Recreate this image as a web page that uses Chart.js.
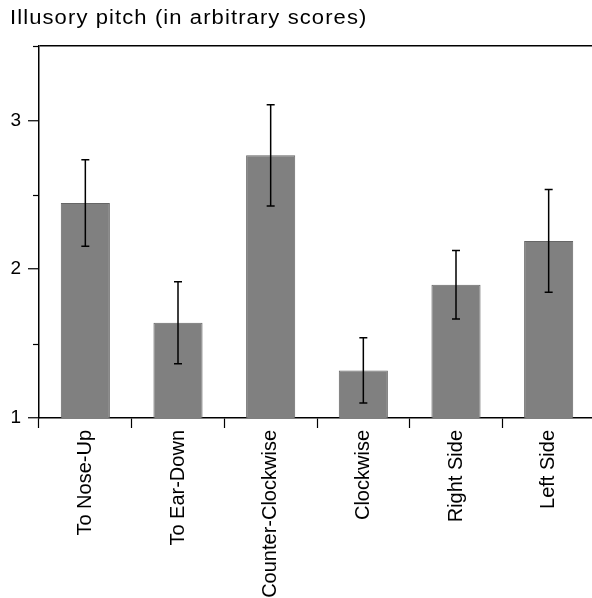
<!DOCTYPE html>
<html>
<head>
<meta charset="utf-8">
<script src="https://cdn.jsdelivr.net/npm/chart.js@4/dist/chart.umd.min.js"></script>
<style>
  html, body { margin: 0; padding: 0; background: #fff; overflow: hidden; }
  #wrap { position: relative; width: 600px; height: 598px; }
</style>
</head>
<body>
<div id="wrap"><canvas id="c"></canvas></div>
<script>
// Conditions and their mean scores
const categories = ['To Nose-Up', 'To Ear-Down', 'Counter-Clockwise', 'Clockwise', 'Right Side', 'Left Side'];
const meanScores = [2.445, 1.64, 2.765, 1.32, 1.895, 2.19];
const errorSizes = [0.29, 0.275, 0.34, 0.22, 0.23, 0.345];
const yTickLabels = ['1', '2', '3'];
const titleText = 'Illusory pitch (in arbitrary scores)';

const FONT = '"Liberation Sans", Arial, sans-serif';

// Error bars drawn on top of each bar
const errorBars = {
  id: 'errorBars',
  afterDatasetsDraw(chart) {
    const { ctx, scales: { y } } = chart;
    const meta = chart.getDatasetMeta(0);
    ctx.save();
    ctx.strokeStyle = '#000';
    ctx.lineWidth = 1.5;
    meta.data.forEach((bar, i) => {
      const x = bar.x;
      const top = y.getPixelForValue(meanScores[i] + errorSizes[i]);
      const bot = y.getPixelForValue(meanScores[i] - errorSizes[i]);
      const cap = 4;
      ctx.beginPath();
      ctx.moveTo(x, top); ctx.lineTo(x, bot);
      ctx.moveTo(x - cap, top); ctx.lineTo(x + cap, top);
      ctx.moveTo(x - cap, bot); ctx.lineTo(x + cap, bot);
      ctx.stroke();
    });
    ctx.restore();
  }
};

// Short minor ticks at the half-unit positions of the value axis
const minorTicks = {
  id: 'minorTicks',
  afterDraw(chart) {
    const { ctx, scales: { y } } = chart;
    ctx.save();
    ctx.strokeStyle = '#000';
    ctx.lineWidth = 1.2;
    y.ticks.forEach(t => {
      if (Number.isInteger(t.value)) return;
      const py = Math.round(y.getPixelForValue(t.value)) + 0.5;
      ctx.beginPath();
      ctx.moveTo(y.right - 6, py);
      ctx.lineTo(y.right, py);
      ctx.stroke();
    });
    ctx.restore();
  }
};

// Wider, letter-spaced title text
const spacedTitle = {
  id: 'spacedTitle',
  beforeDraw(chart) {
    const tb = chart.titleBlock;
    if (tb && !tb._spaced) {
      const orig = tb.draw.bind(tb);
      tb.draw = function (area) {
        const ctx = chart.ctx;
        ctx.save();
        ctx.translate(10, 0);
        ctx.scale(1.1, 1);
        ctx.letterSpacing = '1px';
        orig(area);
        ctx.restore();
      };
      tb._spaced = true;
    }
  }
};

new Chart(document.getElementById('c'), {
  type: 'bar',
  data: {
    labels: categories,
    datasets: [{
      data: meanScores,
      backgroundColor: '#808080',
      borderColor: '#666666',
      borderWidth: 1,
      barPercentage: 0.53,
      categoryPercentage: 1.0
    }]
  },
  options: {
    responsive: true,
    maintainAspectRatio: false,
    animation: false,
    layout: { padding: { left: 0, right: 5, top: 0, bottom: 0 } },
    plugins: {
      legend: { display: false },
      tooltip: { enabled: false },
      title: {
        display: true,
        text: titleText,
        align: 'start',
        color: '#000',
        font: { family: FONT, size: 20, weight: 'normal', lineHeight: 1.2 },
        padding: { top: 6, bottom: 16 }
      }
    },
    scales: {
      x: {
        offset: true,
        grid: {
          offset: true,
          drawOnChartArea: false,
          drawTicks: true,
          tickLength: 10,
          tickColor: '#000',
          tickWidth: 1.2
        },
        border: { display: true, color: '#000', width: 1.5 },
        ticks: {
          autoSkip: false,
          minRotation: 90,
          maxRotation: 90,
          padding: 2,
          color: '#000',
          font: { family: FONT, size: 20 }
        },
        afterFit(scale) { scale.height = 180; }
      },
      y: {
        min: 1,
        max: 3.5,
        grid: {
          drawOnChartArea: true,
          color: c => (c.tick && c.tick.value === 3.5 ? '#000' : 'rgba(0,0,0,0)'),
          lineWidth: 1.5,
          drawTicks: true,
          tickLength: 11,
          tickColor: c => (c.tick && Number.isInteger(c.tick.value) ? '#000' : 'rgba(0,0,0,0)'),
          tickWidth: 1.2
        },
        border: { display: true, color: '#000', width: 1.5 },
        ticks: {
          stepSize: 0.5,
          padding: 7,
          color: '#000',
          font: { family: FONT, size: 19 },
          callback: v => (Number.isInteger(v) ? yTickLabels[v - 1] : '')
        },
        afterFit(scale) { scale.width = 39; }
      }
    }
  },
  plugins: [errorBars, minorTicks, spacedTitle]
});
</script>
</body>
</html>
